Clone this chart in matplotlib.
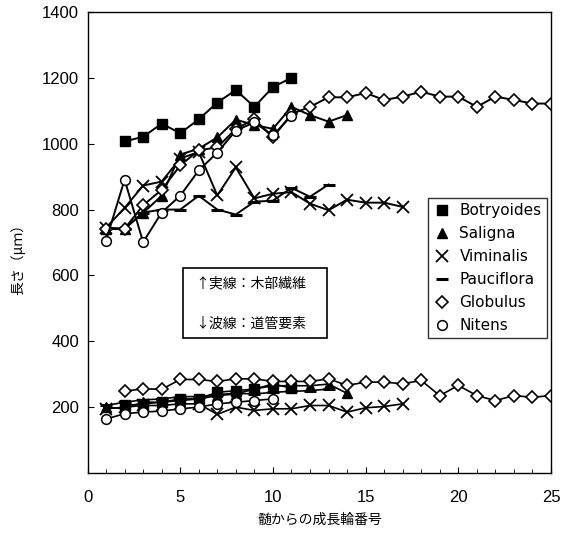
import matplotlib
matplotlib.use("Agg")
import matplotlib.pyplot as plt
from matplotlib.patches import Rectangle

plt.rcParams['font.family'] = ['Liberation Sans', 'DejaVu Sans', 'Noto Sans CJK JP']

# fibre length (solid lines, upper group)
bot_f_x = [2, 3, 4, 5, 6, 7, 8, 9, 10, 11]
bot_f_y = [1007, 1021, 1061, 1032, 1074, 1125, 1163, 1112, 1172, 1200]
sal_f_x = list(range(1, 15))
sal_f_y = [742, 742, 790, 842, 967, 985, 1019, 1073, 1057, 1045, 1112, 1087, 1067, 1087]
vim_f_x = list(range(1, 18))
vim_f_y = [745, 805, 873, 885, 955, 975, 843, 928, 834, 848, 853, 818, 798, 830, 821, 821, 808]
pau_f_x = list(range(1, 14))
pau_f_y = [745, 742, 791, 800, 800, 842, 800, 785, 824, 827, 866, 839, 876]
glo_f_x = list(range(1, 26))
glo_f_y = [740, 742, 813, 860, 934, 980, 989, 1045, 1075, 1019, 1090, 1112, 1141, 1141,
           1154, 1133, 1143, 1158, 1143, 1143, 1112, 1143, 1133, 1122, 1122]
nit_f_x = list(range(1, 12))
nit_f_y = [706, 891, 701, 791, 842, 919, 973, 1040, 1065, 1025, 1085]

# vessel element length (lower group)
bot_v_x = [2, 3, 4, 5, 6, 7, 8, 9, 10, 11]
bot_v_y = [205, 210, 215, 225, 225, 245, 250, 255, 270, 258]
sal_v_x = list(range(1, 15))
sal_v_y = [200, 195, 215, 215, 220, 225, 235, 240, 255, 265, 265, 265, 270, 242]
vim_v_x = list(range(1, 18))
vim_v_y = [195, 200, 205, 205, 210, 210, 178, 200, 190, 195, 195, 205, 205, 185, 198, 202, 210]
pau_v_x = list(range(1, 14))
pau_v_y = [205, 215, 222, 225, 232, 232, 238, 242, 240, 245, 248, 250, 255]
glo_v_x = list(range(2, 26))
glo_v_y = [248, 256, 254, 284, 284, 278, 286, 286, 278, 278, 278, 286, 266, 276, 276,
           271, 281, 235, 266, 235, 220, 235, 230, 235]
nit_v_x = list(range(1, 11))
nit_v_y = [164, 180, 185, 188, 195, 200, 210, 215, 220, 225]

names = ['Botryoides', 'Saligna', 'Viminalis', 'Pauciflora', 'Globulus', 'Nitens']
markers = ['s', '^', 'x', '_', 'D', 'o']
fibre = [(bot_f_x, bot_f_y), (sal_f_x, sal_f_y), (vim_f_x, vim_f_y),
         (pau_f_x, pau_f_y), (glo_f_x, glo_f_y), (nit_f_x, nit_f_y)]
vessel = [(bot_v_x, bot_v_y), (sal_v_x, sal_v_y), (vim_v_x, vim_v_y),
          (pau_v_x, pau_v_y), (glo_v_x, glo_v_y), (nit_v_x, nit_v_y)]

fig = plt.figure(figsize=(5.66, 5.41), dpi=100)
ax = fig.add_axes([0.1546, 0.1257, 0.8189, 0.8521])


def style(m):
    if m in ('s', '^'):
        return dict(marker=m, markersize=6.5, markerfacecolor='black', markeredgecolor='black')
    if m == 'x':
        return dict(marker=m, markersize=8, markeredgewidth=1.3, markeredgecolor='black')
    if m == '_':
        return dict(marker=m, markersize=8, markeredgewidth=2.2, markeredgecolor='black')
    if m == 'D':
        return dict(marker=m, markersize=6.5, markerfacecolor='white', markeredgecolor='black',
                    markeredgewidth=1.2)
    return dict(marker=m, markersize=7, markerfacecolor='white', markeredgecolor='black',
                markeredgewidth=1.1)


handles = []
for name, m, (fx, fy), (vx, vy) in zip(names, markers, fibre, vessel):
    ax.plot(fx, fy, color='black', lw=1.4, **style(m))
    ax.plot(vx, vy, color='black', lw=1.2, **style(m))
    h, = ax.plot([], [], ls='none', **style(m))
    handles.append(h)

ax.set_xlim(0, 25)
ax.set_ylim(0, 1400)
ax.set_xticks([0, 5, 10, 15, 20, 25])
ax.set_xticks(range(0, 26), minor=True)
ax.set_yticks([200, 400, 600, 800, 1000, 1200, 1400])
ax.tick_params(axis='x', which='major', direction='in', length=4, pad=12, labelsize=12)
ax.tick_params(axis='x', which='minor', direction='in', length=3)
ax.tick_params(axis='y', direction='in', length=4, pad=6, labelsize=12)
for sp in ax.spines.values():
    sp.set_linewidth(1.0)

ax.set_xlabel('髄からの成長輪番号', fontsize=10, labelpad=6,
              family=['Noto Sans CJK JP', 'DejaVu Sans'])
ax.set_ylabel('長さ（μｍ）', fontsize=10,
              family=['Noto Sans CJK JP', 'DejaVu Sans'])
ax.yaxis.set_label_coords(-0.135, 0.47)

leg = ax.legend(handles, names, loc='upper left', bbox_to_anchor=(0.735, 0.597),
                frameon=True, fancybox=False, handlelength=1.1,
                handletextpad=0.6, labelspacing=0.52, borderpad=0.35, borderaxespad=0,
                prop={'family': 'DejaVu Sans', 'size': 11})
leg.get_frame().set_edgecolor('black')
leg.get_frame().set_linewidth(1.0)

# annotation box
ax.add_patch(Rectangle((5.15, 410), 7.77, 213, fill=False, edgecolor='black', lw=1.2, zorder=5))
ax.text(5.8, 577, '↑実線：木部繊維', fontsize=10, va='center',
        family=['Noto Sans CJK JP', 'DejaVu Sans'])
ax.text(5.8, 455, '↓波線：道管要素', fontsize=10, va='center',
        family=['Noto Sans CJK JP', 'DejaVu Sans'])

fig.savefig('out.png', dpi=100)
